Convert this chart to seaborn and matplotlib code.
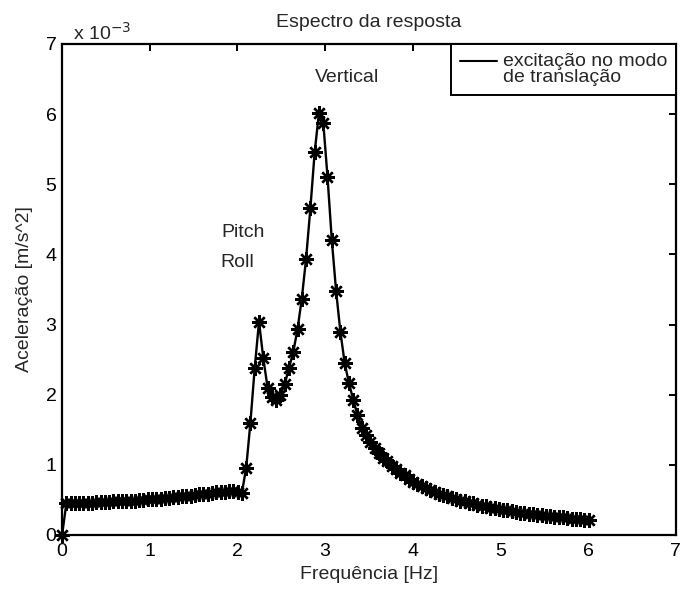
import matplotlib
matplotlib.use("Agg")
import matplotlib.pyplot as plt
import seaborn as sns
import pandas as pd
from matplotlib.lines import Line2D
from matplotlib.legend_handler import HandlerLine2D

# Frequencies [Hz] (regular spectral grid)
freq = [0.000, 0.049, 0.098, 0.146, 0.195, 0.244, 0.293, 0.342, 0.391, 0.439,
        0.488, 0.537, 0.586, 0.635, 0.684, 0.732, 0.781, 0.830, 0.879, 0.928,
        0.977, 1.025, 1.074, 1.123, 1.172, 1.221, 1.270, 1.318, 1.367, 1.416,
        1.465, 1.514, 1.563, 1.611, 1.660, 1.709, 1.758, 1.807, 1.855, 1.904,
        1.953, 2.002, 2.051, 2.100, 2.148, 2.197, 2.246, 2.295, 2.344, 2.393,
        2.441, 2.490, 2.539, 2.588, 2.637, 2.686, 2.734, 2.783, 2.832, 2.881,
        2.930, 2.979, 3.027, 3.076, 3.125, 3.174, 3.223, 3.271, 3.320, 3.369,
        3.418, 3.467, 3.516, 3.564, 3.613, 3.662, 3.711, 3.760, 3.809, 3.857,
        3.906, 3.955, 4.004, 4.053, 4.102, 4.150, 4.199, 4.248, 4.297, 4.346,
        4.395, 4.443, 4.492, 4.541, 4.590, 4.639, 4.688, 4.736, 4.785, 4.834,
        4.883, 4.932, 4.980, 5.029, 5.078, 5.127, 5.176, 5.225, 5.273, 5.322,
        5.371, 5.420, 5.469, 5.518, 5.566, 5.615, 5.664, 5.713, 5.762, 5.811,
        5.859, 5.908, 5.957, 6.006]

# Acceleration in units of 1e-3 m/s^2
accel_e3 = [0.00, 0.45, 0.45, 0.45, 0.46, 0.46, 0.46, 0.46, 0.47, 0.47,
            0.47, 0.47, 0.48, 0.48, 0.48, 0.49, 0.49, 0.49, 0.50, 0.50,
            0.51, 0.51, 0.52, 0.52, 0.53, 0.53, 0.54, 0.54, 0.55, 0.56,
            0.56, 0.57, 0.58, 0.58, 0.59, 0.60, 0.61, 0.61, 0.62, 0.63,
            0.63, 0.62, 0.60, 0.96, 1.60, 2.38, 3.04, 2.52, 2.10, 1.97,
            1.93, 2.00, 2.15, 2.38, 2.61, 2.94, 3.37, 3.94, 4.66, 5.46,
            6.02, 5.88, 5.11, 4.21, 3.48, 2.90, 2.45, 2.17, 1.93, 1.71,
            1.53, 1.42, 1.32, 1.24, 1.17, 1.10, 1.05, 0.99, 0.94, 0.89,
            0.85, 0.80, 0.76, 0.73, 0.70, 0.67, 0.64, 0.62, 0.59, 0.57,
            0.55, 0.53, 0.51, 0.49, 0.48, 0.46, 0.45, 0.43, 0.42, 0.41,
            0.39, 0.38, 0.37, 0.36, 0.35, 0.34, 0.33, 0.32, 0.31, 0.305,
            0.30, 0.29, 0.28, 0.275, 0.27, 0.26, 0.255, 0.25, 0.24, 0.235,
            0.23, 0.225, 0.22, 0.21]

x_ticks = [0, 1, 2, 3, 4, 5, 6, 7]
y_ticks = [0, 1, 2, 3, 4, 5, 6, 7]

title = "Espectro da resposta"
xlabel = "Frequência [Hz]"
ylabel = "Aceleração [m/s^2]"
legend_label = "excitação no modo\nde translação"
annotations = [("Vertical", 3.25, 6.52, "center"),
               ("Pitch", 1.82, 4.31, "left"),
               ("Roll", 1.81, 3.88, "left")]

sns.set_style("white")
plt.rcParams["font.family"] = ["Liberation Sans", "DejaVu Sans"]
FS = 14


class TopLineHandler(HandlerLine2D):
    """Legend line drawn level with the first text line."""
    def create_artists(self, legend, orig_handle, xdescent, ydescent,
                       width, height, fontsize, trans):
        arts = super().create_artists(legend, orig_handle, xdescent, ydescent,
                                      width, height, fontsize, trans)
        for a in arts:
            y = a.get_ydata()
            a.set_ydata([v + height * 0.62 for v in y])
        return arts


df = pd.DataFrame({"freq": freq, "accel": accel_e3})

fig = plt.figure(figsize=(6.82, 5.92), dpi=100)
ax = fig.add_axes([0.091, 0.0963, 0.9, 0.8294])

sns.lineplot(data=df, x="freq", y="accel", ax=ax, color="black", lw=1.7,
             marker=(8, 2, 0), markersize=10.5, markeredgewidth=1.7,
             markeredgecolor="black", legend=False, sort=False)
for ln in ax.lines:
    ln.set_clip_on(False)

ax.set_xlim(0, 7)
ax.set_ylim(0, 7)
ax.set_xticks(x_ticks)
ax.set_yticks(y_ticks)
ax.set_xticklabels([str(t) for t in x_ticks], fontsize=FS)
ax.set_yticklabels([str(t) for t in y_ticks], fontsize=FS)
ax.tick_params(axis="both", direction="in", top=True, right=True, length=5,
               width=1.4, colors="black")
ax.tick_params(axis="x", pad=6)
ax.tick_params(axis="y", pad=4)
for s in ax.spines.values():
    s.set_visible(True)
    s.set_color("black")
    s.set_linewidth(1.6)

ax.set_xlabel(xlabel, fontsize=FS, labelpad=4)
ax.set_ylabel(ylabel, fontsize=FS, labelpad=9)
ax.set_title(title, fontsize=FS, pad=12)

ax.text(0.018, 1.0, r"x 10$^{-3}$", transform=ax.transAxes, fontsize=FS,
        ha="left", va="bottom")

for txt, xx, yy, ha in annotations:
    ax.text(xx, yy, txt, fontsize=FS, ha=ha, va="center")

handle = Line2D([0], [0], color="black", lw=1.5)
leg = ax.legend([handle], [legend_label], loc="upper right", fontsize=FS,
                frameon=True, fancybox=False, framealpha=1, borderaxespad=0,
                handlelength=1.9, handletextpad=0.3, borderpad=0.45,
                labelspacing=0.1,
                handler_map={Line2D: TopLineHandler()})
leg.get_frame().set_edgecolor("black")
leg.get_frame().set_linewidth(1.4)
for t in leg.get_texts():
    t.set_linespacing(0.95)

fig.savefig("out.png", dpi=100)
